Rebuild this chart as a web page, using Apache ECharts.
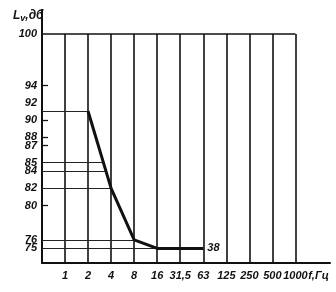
<!DOCTYPE html>
<html><head><meta charset="utf-8">
<script src="https://cdn.jsdelivr.net/npm/echarts@6/dist/echarts.min.js"></script>
<style>html,body{margin:0;padding:0;background:#fff}#c{width:336px;height:292px}</style>
</head><body><div id="c"></div>
<script>
// Frequency tick labels (x positions 1..11)
var freqLabels = ['1', '2', '4', '8', '16', '31,5', '63', '125', '250', '500', '1000'];
var xAxisName = 'f,Гц';
// Level labels on y axis
var levelLabels = [100, 94, 92, 90, 88, 87, 85, 84, 82, 80, 76];
var levelLabelsLow = [75];
var levelTicks = [94, 90, 88, 87, 80];
// Curve: [frequency index, level dB]
var curveX = [2, 3, 4, 5, 6, 7];
var curveY = [91, 82, 76, 75, 75, 75];
var curveLabel = '38';
// Horizontal reference lines: [level, end x index]
var refLevels = [91, 85, 84, 82, 76, 75];
var refEnds = [2, 2.65, 2.8, 3, 4, 5];
var topLevel = 100;

var yMin = 73.3, yMax = 102.8;
var FONT = "'Liberation Sans', 'DejaVu Sans', sans-serif";
var WEIGHT = 'bold';

var markData = [];
for (var i = 1; i <= freqLabels.length; i++) {
  markData.push([{coord: [i, yMin], lineStyle: {width: 1.6, color: '#111', type: 'solid'}}, {coord: [i, topLevel]}]);
}
markData.push([{coord: [0, topLevel], lineStyle: {width: 1.6, color: '#111', type: 'solid'}}, {coord: [freqLabels.length, topLevel]}]);
for (var j = 0; j < refLevels.length; j++) {
  markData.push([{coord: [0, refLevels[j]], lineStyle: {width: 1, color: '#222', type: 'solid'}}, {coord: [refEnds[j], refLevels[j]]}]);
}
for (var t = 0; t < levelTicks.length; t++) {
  markData.push([{coord: [0, levelTicks[t]], lineStyle: {width: 1.3, color: '#111', type: 'solid'}}, {coord: [0.26, levelTicks[t]]}]);
}

function yAxisDef(values, showLine) {
  return {
    type: 'value', min: yMin, max: yMax, position: 'left',
    axisLine: {show: showLine, lineStyle: {color: '#111', width: 2}},
    splitLine: {show: false},
    axisTick: {show: false},
    axisLabel: {
      customValues: values,
      hideOverlap: false,
      margin: 5,
      fontFamily: FONT, fontStyle: 'italic', fontWeight: WEIGHT, fontSize: 11, color: '#111'
    }
  };
}

var chart = echarts.init(document.getElementById('c'), null, {renderer: 'canvas'});
chart.setOption({
  animation: false,
  backgroundColor: '#fff',
  title: {
    text: '{l|L}{s|v}{l|,дб}',
    left: 8, top: 4,
    textStyle: {
      rich: {
        l: {fontFamily: FONT, fontStyle: 'italic', fontWeight: 'bold', fontSize: 12, color: '#111'},
        s: {fontFamily: FONT, fontStyle: 'italic', fontWeight: 'bold', fontSize: 9, color: '#111', verticalAlign: 'bottom', padding: [5, 0, 0, 0]}
      }
    }
  },
  grid: {left: 42, right: 6, top: 10, bottom: 29},
  xAxis: {
    type: 'value', min: 0, max: 12.5, interval: 1,
    axisLine: {show: true, lineStyle: {color: '#111', width: 2}},
    axisTick: {show: false},
    splitLine: {show: false},
    axisLabel: {
      margin: 7, hideOverlap: false,
      fontFamily: FONT, fontStyle: 'italic', fontWeight: WEIGHT, fontSize: 11, color: '#111',
      showMaxLabel: false, showMinLabel: false,
      formatter: function (v) {
        if (v >= 1 && v <= freqLabels.length) return freqLabels[v - 1];
        if (v === 12) return xAxisName;
        return '';
      }
    }
  },
  yAxis: [yAxisDef(levelLabels, true), yAxisDef(levelLabelsLow, false)],
  series: [{
    type: 'line',
    data: curveX.map(function (x, k) { return [x, curveY[k]]; }),
    symbol: 'none',
    lineStyle: {color: '#111', width: 3},
    endLabel: {
      show: true, distance: 4,
      fontFamily: FONT, fontStyle: 'italic', fontWeight: WEIGHT, fontSize: 11, color: '#111',
      formatter: function () { return curveLabel; }
    },
    markLine: {
      silent: true, symbol: ['none', 'none'],
      label: {show: false},
      data: markData
    },
    z: 5
  }]
});
</script></body></html>
